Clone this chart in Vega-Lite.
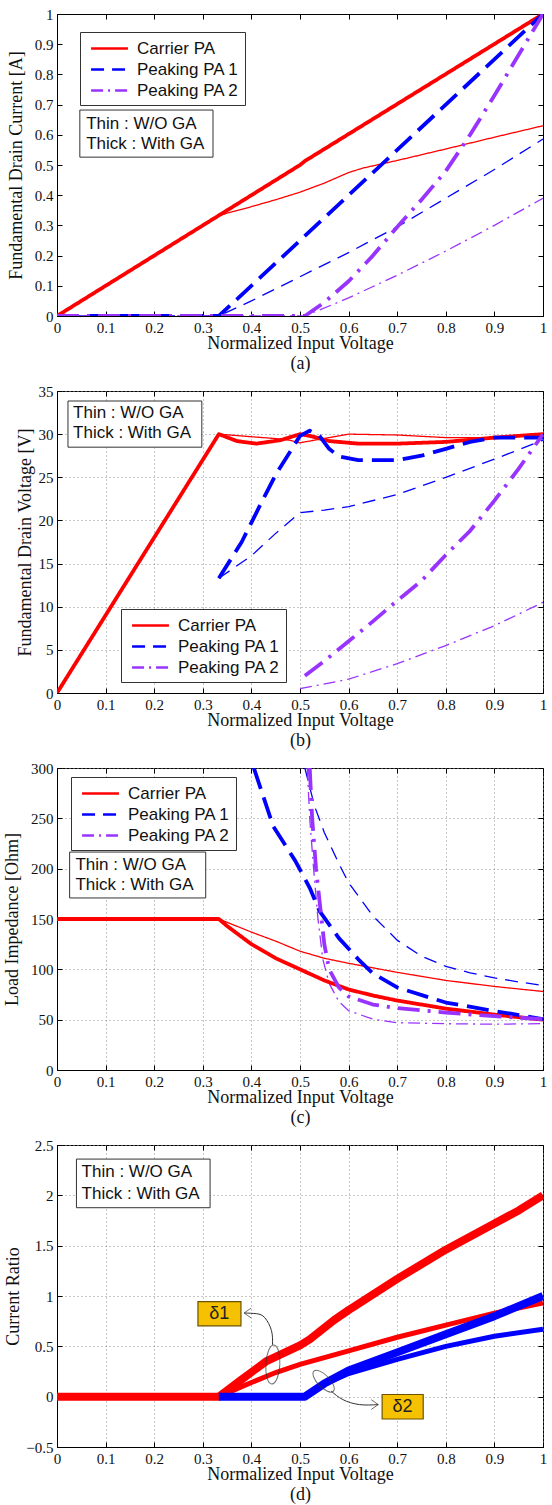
{
"$schema": "https://vega.github.io/schema/vega-lite/v6.json",
"padding": {"left": 3, "top": 6, "right": 5, "bottom": 0},
"spacing": 10,
"config": {
  "view": {"stroke": "#000", "strokeWidth": 1},
  "axis": {"labelFont": "Liberation Serif", "labelFontSize": 15, "labelColor": "#111", "titleFont": "Liberation Serif", "titleFontSize": 18, "titleFontWeight": "normal", "titleColor": "#111", "domainColor": "#000", "tickColor": "#000", "tickSize": -5, "labelPadding": 9, "gridColor": "#8c8c8c", "gridDash": [1, 3], "gridWidth": 1, "labelFlush": false, "labelOverlap": false, "titleLineHeight": 20, "labelExpr": "format(datum.value, '~g')"},
  "legend": {"labelFont": "Liberation Sans", "labelFontSize": 17, "labelColor": "#111", "symbolType": "M -2,0 L 2,0", "symbolSize": 340, "symbolOffset": 13, "labelOffset": 17, "padding": 6, "rowPadding": 2, "strokeColor": "#333", "fillColor": "#fff", "symbolStrokeWidth": 2.5, "orient": "none"},
  "text": {"font": "Liberation Sans", "fontSize": 17, "color": "#111", "align": "left", "baseline": "middle"}
},
"datasets": {
  "a": [
    {"pa":"Carrier PA","ga":"With GA","x":0,"y":0},{"pa":"Carrier PA","ga":"With GA","x":0.333,"y":0.333},{"pa":"Carrier PA","ga":"With GA","x":0.5,"y":0.5},{"pa":"Carrier PA","ga":"With GA","x":0.51,"y":0.513},{"pa":"Carrier PA","ga":"With GA","x":1,"y":1},
    {"pa":"Carrier PA","ga":"W/O GA","x":0,"y":0},{"pa":"Carrier PA","ga":"W/O GA","x":0.333,"y":0.333},{"pa":"Carrier PA","ga":"W/O GA","x":0.4,"y":0.362},{"pa":"Carrier PA","ga":"W/O GA","x":0.45,"y":0.385},{"pa":"Carrier PA","ga":"W/O GA","x":0.5,"y":0.41},{"pa":"Carrier PA","ga":"W/O GA","x":0.55,"y":0.44},{"pa":"Carrier PA","ga":"W/O GA","x":0.6,"y":0.475},{"pa":"Carrier PA","ga":"W/O GA","x":0.63,"y":0.49},{"pa":"Carrier PA","ga":"W/O GA","x":0.7,"y":0.515},{"pa":"Carrier PA","ga":"W/O GA","x":0.8,"y":0.553},{"pa":"Carrier PA","ga":"W/O GA","x":0.9,"y":0.592},{"pa":"Carrier PA","ga":"W/O GA","x":1,"y":0.63},
    {"pa":"Peaking PA 1","ga":"With GA","x":0,"y":0},{"pa":"Peaking PA 1","ga":"With GA","x":0.333,"y":0},{"pa":"Peaking PA 1","ga":"With GA","x":0.5,"y":0.25},{"pa":"Peaking PA 1","ga":"With GA","x":0.75,"y":0.625},{"pa":"Peaking PA 1","ga":"With GA","x":1,"y":1},
    {"pa":"Peaking PA 1","ga":"W/O GA","x":0,"y":0},{"pa":"Peaking PA 1","ga":"W/O GA","x":0.333,"y":0},{"pa":"Peaking PA 1","ga":"W/O GA","x":0.4,"y":0.05},{"pa":"Peaking PA 1","ga":"W/O GA","x":0.5,"y":0.13},{"pa":"Peaking PA 1","ga":"W/O GA","x":0.6,"y":0.21},{"pa":"Peaking PA 1","ga":"W/O GA","x":0.7,"y":0.295},{"pa":"Peaking PA 1","ga":"W/O GA","x":0.8,"y":0.39},{"pa":"Peaking PA 1","ga":"W/O GA","x":0.9,"y":0.485},{"pa":"Peaking PA 1","ga":"W/O GA","x":1,"y":0.586},
    {"pa":"Peaking PA 2","ga":"With GA","x":0,"y":0},{"pa":"Peaking PA 2","ga":"With GA","x":0.51,"y":0},{"pa":"Peaking PA 2","ga":"With GA","x":0.55,"y":0.045},{"pa":"Peaking PA 2","ga":"With GA","x":0.6,"y":0.115},{"pa":"Peaking PA 2","ga":"With GA","x":0.65,"y":0.2},{"pa":"Peaking PA 2","ga":"With GA","x":0.7,"y":0.295},{"pa":"Peaking PA 2","ga":"With GA","x":0.75,"y":0.385},{"pa":"Peaking PA 2","ga":"With GA","x":0.8,"y":0.48},{"pa":"Peaking PA 2","ga":"With GA","x":0.85,"y":0.6},{"pa":"Peaking PA 2","ga":"With GA","x":0.9,"y":0.73},{"pa":"Peaking PA 2","ga":"With GA","x":0.95,"y":0.865},{"pa":"Peaking PA 2","ga":"With GA","x":1,"y":1},
    {"pa":"Peaking PA 2","ga":"W/O GA","x":0,"y":0},{"pa":"Peaking PA 2","ga":"W/O GA","x":0.51,"y":0},{"pa":"Peaking PA 2","ga":"W/O GA","x":0.6,"y":0.06},{"pa":"Peaking PA 2","ga":"W/O GA","x":0.7,"y":0.135},{"pa":"Peaking PA 2","ga":"W/O GA","x":0.8,"y":0.215},{"pa":"Peaking PA 2","ga":"W/O GA","x":0.9,"y":0.3},{"pa":"Peaking PA 2","ga":"W/O GA","x":1,"y":0.39}
  ],
  "b": [
    {"pa":"Carrier PA","ga":"With GA","x":0,"y":0},{"pa":"Carrier PA","ga":"With GA","x":0.333,"y":30},{"pa":"Carrier PA","ga":"With GA","x":0.37,"y":29.2},{"pa":"Carrier PA","ga":"With GA","x":0.41,"y":28.9},{"pa":"Carrier PA","ga":"With GA","x":0.46,"y":29.3},{"pa":"Carrier PA","ga":"With GA","x":0.5,"y":30},{"pa":"Carrier PA","ga":"With GA","x":0.52,"y":29.8},{"pa":"Carrier PA","ga":"With GA","x":0.56,"y":29.2},{"pa":"Carrier PA","ga":"With GA","x":0.62,"y":28.9},{"pa":"Carrier PA","ga":"With GA","x":0.7,"y":28.9},{"pa":"Carrier PA","ga":"With GA","x":0.8,"y":29.1},{"pa":"Carrier PA","ga":"With GA","x":0.9,"y":29.6},{"pa":"Carrier PA","ga":"With GA","x":1,"y":30},
    {"pa":"Carrier PA","ga":"W/O GA","x":0,"y":0},{"pa":"Carrier PA","ga":"W/O GA","x":0.333,"y":30},{"pa":"Carrier PA","ga":"W/O GA","x":0.4,"y":29.7},{"pa":"Carrier PA","ga":"W/O GA","x":0.47,"y":29.4},{"pa":"Carrier PA","ga":"W/O GA","x":0.5,"y":29},{"pa":"Carrier PA","ga":"W/O GA","x":0.54,"y":29.4},{"pa":"Carrier PA","ga":"W/O GA","x":0.6,"y":30},{"pa":"Carrier PA","ga":"W/O GA","x":0.7,"y":29.9},{"pa":"Carrier PA","ga":"W/O GA","x":0.8,"y":29.6},{"pa":"Carrier PA","ga":"W/O GA","x":0.9,"y":29.6},{"pa":"Carrier PA","ga":"W/O GA","x":1,"y":30},
    {"pa":"Peaking PA 1","ga":"With GA","x":0.333,"y":13.3},{"pa":"Peaking PA 1","ga":"With GA","x":0.38,"y":17.5},{"pa":"Peaking PA 1","ga":"With GA","x":0.42,"y":22},{"pa":"Peaking PA 1","ga":"With GA","x":0.45,"y":25.3},{"pa":"Peaking PA 1","ga":"With GA","x":0.48,"y":28},{"pa":"Peaking PA 1","ga":"With GA","x":0.5,"y":29.8},{"pa":"Peaking PA 1","ga":"With GA","x":0.52,"y":30.4},{"pa":"Peaking PA 1","ga":"With GA","x":0.54,"y":29.8},{"pa":"Peaking PA 1","ga":"With GA","x":0.56,"y":28.3},{"pa":"Peaking PA 1","ga":"With GA","x":0.58,"y":27.4},{"pa":"Peaking PA 1","ga":"With GA","x":0.62,"y":27},{"pa":"Peaking PA 1","ga":"With GA","x":0.7,"y":27},{"pa":"Peaking PA 1","ga":"With GA","x":0.75,"y":27.5},{"pa":"Peaking PA 1","ga":"With GA","x":0.8,"y":28.3},{"pa":"Peaking PA 1","ga":"With GA","x":0.85,"y":29.1},{"pa":"Peaking PA 1","ga":"With GA","x":0.9,"y":29.6},{"pa":"Peaking PA 1","ga":"With GA","x":1,"y":29.6},
    {"pa":"Peaking PA 1","ga":"W/O GA","x":0.333,"y":13.3},{"pa":"Peaking PA 1","ga":"W/O GA","x":0.4,"y":15.9},{"pa":"Peaking PA 1","ga":"W/O GA","x":0.45,"y":18.5},{"pa":"Peaking PA 1","ga":"W/O GA","x":0.5,"y":20.9},{"pa":"Peaking PA 1","ga":"W/O GA","x":0.55,"y":21.2},{"pa":"Peaking PA 1","ga":"W/O GA","x":0.6,"y":21.6},{"pa":"Peaking PA 1","ga":"W/O GA","x":0.7,"y":23},{"pa":"Peaking PA 1","ga":"W/O GA","x":0.8,"y":25},{"pa":"Peaking PA 1","ga":"W/O GA","x":0.9,"y":27.1},{"pa":"Peaking PA 1","ga":"W/O GA","x":1,"y":29.3},
    {"pa":"Peaking PA 2","ga":"With GA","x":0.51,"y":2},{"pa":"Peaking PA 2","ga":"With GA","x":0.55,"y":3.7},{"pa":"Peaking PA 2","ga":"With GA","x":0.6,"y":6},{"pa":"Peaking PA 2","ga":"With GA","x":0.65,"y":8.3},{"pa":"Peaking PA 2","ga":"With GA","x":0.7,"y":10.7},{"pa":"Peaking PA 2","ga":"With GA","x":0.75,"y":13},{"pa":"Peaking PA 2","ga":"With GA","x":0.8,"y":16},{"pa":"Peaking PA 2","ga":"With GA","x":0.85,"y":18.8},{"pa":"Peaking PA 2","ga":"With GA","x":0.9,"y":22.3},{"pa":"Peaking PA 2","ga":"With GA","x":0.95,"y":26},{"pa":"Peaking PA 2","ga":"With GA","x":1,"y":30},
    {"pa":"Peaking PA 2","ga":"W/O GA","x":0.5,"y":0.5},{"pa":"Peaking PA 2","ga":"W/O GA","x":0.6,"y":1.6},{"pa":"Peaking PA 2","ga":"W/O GA","x":0.7,"y":3.4},{"pa":"Peaking PA 2","ga":"W/O GA","x":0.8,"y":5.5},{"pa":"Peaking PA 2","ga":"W/O GA","x":0.9,"y":7.8},{"pa":"Peaking PA 2","ga":"W/O GA","x":1,"y":10.5}
  ],
  "c": [
    {"pa":"Carrier PA","ga":"With GA","x":0,"y":150},{"pa":"Carrier PA","ga":"With GA","x":0.333,"y":150},{"pa":"Carrier PA","ga":"With GA","x":0.35,"y":143},{"pa":"Carrier PA","ga":"With GA","x":0.4,"y":125},{"pa":"Carrier PA","ga":"With GA","x":0.45,"y":111},{"pa":"Carrier PA","ga":"With GA","x":0.5,"y":100},{"pa":"Carrier PA","ga":"With GA","x":0.55,"y":89},{"pa":"Carrier PA","ga":"With GA","x":0.6,"y":80},{"pa":"Carrier PA","ga":"With GA","x":0.65,"y":74},{"pa":"Carrier PA","ga":"With GA","x":0.7,"y":69},{"pa":"Carrier PA","ga":"With GA","x":0.8,"y":61},{"pa":"Carrier PA","ga":"With GA","x":0.9,"y":55},{"pa":"Carrier PA","ga":"With GA","x":1,"y":50},
    {"pa":"Carrier PA","ga":"W/O GA","x":0,"y":150},{"pa":"Carrier PA","ga":"W/O GA","x":0.333,"y":150},{"pa":"Carrier PA","ga":"W/O GA","x":0.4,"y":137},{"pa":"Carrier PA","ga":"W/O GA","x":0.45,"y":128},{"pa":"Carrier PA","ga":"W/O GA","x":0.5,"y":118},{"pa":"Carrier PA","ga":"W/O GA","x":0.55,"y":111},{"pa":"Carrier PA","ga":"W/O GA","x":0.6,"y":106},{"pa":"Carrier PA","ga":"W/O GA","x":0.7,"y":97},{"pa":"Carrier PA","ga":"W/O GA","x":0.8,"y":89},{"pa":"Carrier PA","ga":"W/O GA","x":0.9,"y":83},{"pa":"Carrier PA","ga":"W/O GA","x":1,"y":78},
    {"pa":"Peaking PA 1","ga":"With GA","x":0.405,"y":300},{"pa":"Peaking PA 1","ga":"With GA","x":0.445,"y":242},{"pa":"Peaking PA 1","ga":"With GA","x":0.49,"y":208},{"pa":"Peaking PA 1","ga":"With GA","x":0.52,"y":181},{"pa":"Peaking PA 1","ga":"With GA","x":0.54,"y":158},{"pa":"Peaking PA 1","ga":"With GA","x":0.58,"y":131},{"pa":"Peaking PA 1","ga":"With GA","x":0.62,"y":110},{"pa":"Peaking PA 1","ga":"With GA","x":0.65,"y":96},{"pa":"Peaking PA 1","ga":"With GA","x":0.7,"y":82},{"pa":"Peaking PA 1","ga":"With GA","x":0.8,"y":67},{"pa":"Peaking PA 1","ga":"With GA","x":0.9,"y":58.6},{"pa":"Peaking PA 1","ga":"With GA","x":1,"y":50.5},
    {"pa":"Peaking PA 1","ga":"W/O GA","x":0.51,"y":300},{"pa":"Peaking PA 1","ga":"W/O GA","x":0.53,"y":262},{"pa":"Peaking PA 1","ga":"W/O GA","x":0.55,"y":236},{"pa":"Peaking PA 1","ga":"W/O GA","x":0.58,"y":205},{"pa":"Peaking PA 1","ga":"W/O GA","x":0.6,"y":186},{"pa":"Peaking PA 1","ga":"W/O GA","x":0.65,"y":153},{"pa":"Peaking PA 1","ga":"W/O GA","x":0.7,"y":129},{"pa":"Peaking PA 1","ga":"W/O GA","x":0.75,"y":113},{"pa":"Peaking PA 1","ga":"W/O GA","x":0.8,"y":103},{"pa":"Peaking PA 1","ga":"W/O GA","x":0.85,"y":96.5},{"pa":"Peaking PA 1","ga":"W/O GA","x":0.9,"y":91.5},{"pa":"Peaking PA 1","ga":"W/O GA","x":0.95,"y":87.5},{"pa":"Peaking PA 1","ga":"W/O GA","x":1,"y":84},
    {"pa":"Peaking PA 2","ga":"With GA","x":0.52,"y":300},{"pa":"Peaking PA 2","ga":"With GA","x":0.525,"y":250},{"pa":"Peaking PA 2","ga":"With GA","x":0.533,"y":200},{"pa":"Peaking PA 2","ga":"With GA","x":0.542,"y":160},{"pa":"Peaking PA 2","ga":"With GA","x":0.55,"y":125},{"pa":"Peaking PA 2","ga":"With GA","x":0.56,"y":100},{"pa":"Peaking PA 2","ga":"With GA","x":0.58,"y":82},{"pa":"Peaking PA 2","ga":"With GA","x":0.6,"y":73},{"pa":"Peaking PA 2","ga":"With GA","x":0.65,"y":65},{"pa":"Peaking PA 2","ga":"With GA","x":0.7,"y":61.5},{"pa":"Peaking PA 2","ga":"With GA","x":0.8,"y":57},{"pa":"Peaking PA 2","ga":"With GA","x":0.9,"y":53.5},{"pa":"Peaking PA 2","ga":"With GA","x":1,"y":50.5},
    {"pa":"Peaking PA 2","ga":"W/O GA","x":0.515,"y":300},{"pa":"Peaking PA 2","ga":"W/O GA","x":0.52,"y":250},{"pa":"Peaking PA 2","ga":"W/O GA","x":0.528,"y":200},{"pa":"Peaking PA 2","ga":"W/O GA","x":0.537,"y":150},{"pa":"Peaking PA 2","ga":"W/O GA","x":0.547,"y":110},{"pa":"Peaking PA 2","ga":"W/O GA","x":0.56,"y":86},{"pa":"Peaking PA 2","ga":"W/O GA","x":0.58,"y":68},{"pa":"Peaking PA 2","ga":"W/O GA","x":0.6,"y":59},{"pa":"Peaking PA 2","ga":"W/O GA","x":0.65,"y":50.5},{"pa":"Peaking PA 2","ga":"W/O GA","x":0.7,"y":47},{"pa":"Peaking PA 2","ga":"W/O GA","x":0.8,"y":46},{"pa":"Peaking PA 2","ga":"W/O GA","x":0.9,"y":45.5},{"pa":"Peaking PA 2","ga":"W/O GA","x":1,"y":46}
  ],
  "d": [
    {"pa":"Carrier PA","ga":"With GA","x":0,"y":0},{"pa":"Carrier PA","ga":"With GA","x":0.333,"y":0},{"pa":"Carrier PA","ga":"With GA","x":0.38,"y":0.17},{"pa":"Carrier PA","ga":"With GA","x":0.43,"y":0.35},{"pa":"Carrier PA","ga":"With GA","x":0.5,"y":0.51},{"pa":"Carrier PA","ga":"With GA","x":0.52,"y":0.57},{"pa":"Carrier PA","ga":"With GA","x":0.57,"y":0.76},{"pa":"Carrier PA","ga":"With GA","x":0.6,"y":0.86},{"pa":"Carrier PA","ga":"With GA","x":0.7,"y":1.17},{"pa":"Carrier PA","ga":"With GA","x":0.8,"y":1.46},{"pa":"Carrier PA","ga":"With GA","x":0.9,"y":1.72},{"pa":"Carrier PA","ga":"With GA","x":0.95,"y":1.85},{"pa":"Carrier PA","ga":"With GA","x":1,"y":2},
    {"pa":"Carrier PA","ga":"W/O GA","x":0,"y":0},{"pa":"Carrier PA","ga":"W/O GA","x":0.333,"y":0},{"pa":"Carrier PA","ga":"W/O GA","x":0.38,"y":0.1},{"pa":"Carrier PA","ga":"W/O GA","x":0.45,"y":0.24},{"pa":"Carrier PA","ga":"W/O GA","x":0.5,"y":0.32},{"pa":"Carrier PA","ga":"W/O GA","x":0.6,"y":0.455},{"pa":"Carrier PA","ga":"W/O GA","x":0.7,"y":0.59},{"pa":"Carrier PA","ga":"W/O GA","x":0.8,"y":0.71},{"pa":"Carrier PA","ga":"W/O GA","x":0.9,"y":0.83},{"pa":"Carrier PA","ga":"W/O GA","x":1,"y":0.93},
    {"pa":"Peaking PA","ga":"With GA","x":0.333,"y":0},{"pa":"Peaking PA","ga":"With GA","x":0.51,"y":0},{"pa":"Peaking PA","ga":"With GA","x":0.55,"y":0.13},{"pa":"Peaking PA","ga":"With GA","x":0.6,"y":0.26},{"pa":"Peaking PA","ga":"With GA","x":0.7,"y":0.44},{"pa":"Peaking PA","ga":"With GA","x":0.8,"y":0.62},{"pa":"Peaking PA","ga":"With GA","x":0.9,"y":0.8},{"pa":"Peaking PA","ga":"With GA","x":1,"y":1},
    {"pa":"Peaking PA","ga":"W/O GA","x":0.333,"y":0},{"pa":"Peaking PA","ga":"W/O GA","x":0.51,"y":0},{"pa":"Peaking PA","ga":"W/O GA","x":0.55,"y":0.12},{"pa":"Peaking PA","ga":"W/O GA","x":0.6,"y":0.23},{"pa":"Peaking PA","ga":"W/O GA","x":0.7,"y":0.37},{"pa":"Peaking PA","ga":"W/O GA","x":0.8,"y":0.5},{"pa":"Peaking PA","ga":"W/O GA","x":0.9,"y":0.6},{"pa":"Peaking PA","ga":"W/O GA","x":1,"y":0.67}
  ],
  "arrows": [
    {"id":"d1","i":0,"x":0.4434,"y":0.516},{"id":"d1","i":1,"x":0.4413,"y":0.656},{"id":"d1","i":2,"x":0.4277,"y":0.784},{"id":"d1","i":3,"x":0.4106,"y":0.824},{"id":"d1","i":4,"x":0.385,"y":0.831},
    {"id":"d2","i":0,"x":0.5643,"y":0.0547},{"id":"d2","i":1,"x":0.588,"y":-0.0286},{"id":"d2","i":2,"x":0.6223,"y":-0.0787},{"id":"d2","i":3,"x":0.661,"y":-0.0787}
  ]
},
"vconcat": [
  {
    "width": 486, "height": 302,
    "resolve": {"scale": {"color": "independent", "strokeDash": "independent"}},
    "layer": [
      {
        "data": {"name": "a"},
        "transform": [{"filter": "datum.ga == 'W/O GA'"}],
        "mark": {"type": "line", "strokeWidth": 1.3, "clip": true},
        "encoding": {
          "x": {"field": "x", "type": "quantitative", "scale": {"domain": [0, 1], "nice": false, "zero": false}, "axis": {"orient": "bottom", "values": [0,0.1,0.2,0.3,0.4,0.5,0.6,0.7,0.8,0.9,1], "title": ["Normalized Input Voltage", "(a)"], "titlePadding": -1, "grid": false}},
          "y": {"field": "y", "type": "quantitative", "scale": {"domain": [0, 1], "nice": false}, "axis": {"orient": "left", "values": [0,0.1,0.2,0.3,0.4,0.5,0.6,0.7,0.8,0.9,1], "title": "Fundamental Drain Current [A]", "titlePadding": 9, "grid": false}},
          "color": {"field": "pa", "type": "nominal", "scale": {"domain": ["Carrier PA", "Peaking PA 1", "Peaking PA 2"], "range": ["#ff0000", "#0000ff", "#9933ff"]}, "legend": {"title": null, "legendX": 23, "legendY": 18, "encode": {"symbols": {"update": {"strokeWidth": {"value": 2.5}}}}}},
          "strokeDash": {"field": "pa", "type": "nominal", "scale": {"domain": ["Carrier PA", "Peaking PA 1", "Peaking PA 2"], "range": [[1, 0], [13, 8], [12, 5, 2, 5]]}, "legend": {"title": null, "legendX": 23, "legendY": 18, "encode": {"symbols": {"update": {"strokeWidth": {"value": 2.5}}}}}}
        }
      },
      {
        "data": {"name": "a"},
        "transform": [{"filter": "datum.ga == 'With GA'"}],
        "mark": {"type": "line", "strokeWidth": 3.8, "clip": true, "strokeJoin": "round"},
        "encoding": {
          "x": {"field": "x", "type": "quantitative", "scale": {"domain": [0, 1], "nice": false, "zero": false}, "axis": {"orient": "top", "values": [0,0.1,0.2,0.3,0.4,0.5,0.6,0.7,0.8,0.9,1], "labels": false, "title": null, "domain": false, "grid": false}},
          "y": {"field": "y", "type": "quantitative", "scale": {"domain": [0, 1], "nice": false}, "axis": {"orient": "right", "values": [0,0.1,0.2,0.3,0.4,0.5,0.6,0.7,0.8,0.9,1], "labels": false, "title": null, "domain": false, "grid": false}},
          "color": {"field": "pa", "type": "nominal", "scale": {"domain": ["Carrier PA", "Peaking PA 1", "Peaking PA 2"], "range": ["#ff0000", "#0000ff", "#9933ff"]}, "legend": null},
          "strokeDash": {"field": "pa", "type": "nominal", "scale": {"domain": ["Carrier PA", "Peaking PA 1", "Peaking PA 2"], "range": [[1, 0], [22, 9], [22, 8, 3, 8]]}, "legend": null}
        }
      },
      {
        "data": {"values": [{}]},
        "mark": {"type": "rect", "fill": "#fff", "stroke": "#333", "strokeWidth": 1},
        "encoding": {
          "x": {"datum": 0.047, "type": "quantitative", "axis": null}, "x2": {"datum": 0.321},
          "y": {"datum": 0.682, "type": "quantitative", "axis": null}, "y2": {"datum": 0.526}
        }
      },
      {
        "data": {"values": [{}]},
        "mark": {"type": "text", "text": "Thin : W/O GA"},
        "encoding": {"x": {"datum": 0.06, "type": "quantitative", "axis": null}, "y": {"datum": 0.636, "type": "quantitative", "axis": null}}
      },
      {
        "data": {"values": [{}]},
        "mark": {"type": "text", "text": "Thick : With GA"},
        "encoding": {"x": {"datum": 0.06, "type": "quantitative", "axis": null}, "y": {"datum": 0.57, "type": "quantitative", "axis": null}}
      }
    ]
  },
  {
    "width": 486, "height": 302,
    "resolve": {"scale": {"color": "independent", "strokeDash": "independent"}},
    "layer": [
      {
        "data": {"name": "b"},
        "transform": [{"filter": "datum.ga == 'W/O GA'"}],
        "mark": {"type": "line", "strokeWidth": 1.3, "clip": true},
        "encoding": {
          "x": {"field": "x", "type": "quantitative", "scale": {"domain": [0, 1], "nice": false, "zero": false}, "axis": {"orient": "bottom", "values": [0,0.1,0.2,0.3,0.4,0.5,0.6,0.7,0.8,0.9,1], "title": ["Normalized Input Voltage", "(b)"], "titlePadding": -1, "grid": true}},
          "y": {"field": "y", "type": "quantitative", "scale": {"domain": [0, 35], "nice": false}, "axis": {"orient": "left", "values": [0,5,10,15,20,25,30,35], "title": "Fundamental Drain Voltage [V]", "titlePadding": 4, "grid": true}},
          "color": {"field": "pa", "type": "nominal", "scale": {"domain": ["Carrier PA", "Peaking PA 1", "Peaking PA 2"], "range": ["#ff0000", "#0000ff", "#9933ff"]}, "legend": {"title": null, "legendX": 64, "legendY": 218, "encode": {"symbols": {"update": {"strokeWidth": {"value": 2.5}}}}}},
          "strokeDash": {"field": "pa", "type": "nominal", "scale": {"domain": ["Carrier PA", "Peaking PA 1", "Peaking PA 2"], "range": [[1, 0], [13, 8], [12, 5, 2, 5]]}, "legend": {"title": null, "legendX": 64, "legendY": 218, "encode": {"symbols": {"update": {"strokeWidth": {"value": 2.5}}}}}}
        }
      },
      {
        "data": {"name": "b"},
        "transform": [{"filter": "datum.ga == 'With GA'"}],
        "mark": {"type": "line", "strokeWidth": 3.8, "clip": true, "strokeJoin": "round"},
        "encoding": {
          "x": {"field": "x", "type": "quantitative", "scale": {"domain": [0, 1], "nice": false, "zero": false}, "axis": {"orient": "top", "values": [0,0.1,0.2,0.3,0.4,0.5,0.6,0.7,0.8,0.9,1], "labels": false, "title": null, "domain": false, "grid": false}},
          "y": {"field": "y", "type": "quantitative", "scale": {"domain": [0, 35], "nice": false}, "axis": {"orient": "right", "values": [0,5,10,15,20,25,30,35], "labels": false, "title": null, "domain": false, "grid": false}},
          "color": {"field": "pa", "type": "nominal", "scale": {"domain": ["Carrier PA", "Peaking PA 1", "Peaking PA 2"], "range": ["#ff0000", "#0000ff", "#9933ff"]}, "legend": null},
          "strokeDash": {"field": "pa", "type": "nominal", "scale": {"domain": ["Carrier PA", "Peaking PA 1", "Peaking PA 2"], "range": [[1, 0], [22, 9], [22, 8, 3, 8]]}, "legend": null}
        }
      },
      {
        "data": {"values": [{}]},
        "mark": {"type": "rect", "fill": "#fff", "stroke": "#333", "strokeWidth": 1},
        "encoding": {
          "x": {"datum": 0.0226, "type": "quantitative", "axis": null}, "x2": {"datum": 0.298},
          "y": {"datum": 33.84, "type": "quantitative", "axis": null}, "y2": {"datum": 28.49}
        }
      },
      {
        "data": {"values": [{}]},
        "mark": {"type": "text", "text": "Thin : W/O GA"},
        "encoding": {"x": {"datum": 0.033, "type": "quantitative", "axis": null}, "y": {"datum": 32.44, "type": "quantitative", "axis": null}}
      },
      {
        "data": {"values": [{}]},
        "mark": {"type": "text", "text": "Thick : With GA"},
        "encoding": {"x": {"datum": 0.033, "type": "quantitative", "axis": null}, "y": {"datum": 30.12, "type": "quantitative", "axis": null}}
      }
    ]
  },
  {
    "width": 486, "height": 302,
    "resolve": {"scale": {"color": "independent", "strokeDash": "independent"}},
    "layer": [
      {
        "data": {"name": "c"},
        "transform": [{"filter": "datum.ga == 'W/O GA'"}],
        "mark": {"type": "line", "strokeWidth": 1.3, "clip": true},
        "encoding": {
          "x": {"field": "x", "type": "quantitative", "scale": {"domain": [0, 1], "nice": false, "zero": false}, "axis": {"orient": "bottom", "values": [0,0.1,0.2,0.3,0.4,0.5,0.6,0.7,0.8,0.9,1], "title": ["Normalized Input Voltage", "(c)"], "titlePadding": -1, "grid": true}},
          "y": {"field": "y", "type": "quantitative", "scale": {"domain": [0, 300], "nice": false}, "axis": {"orient": "left", "values": [0,50,100,150,200,250,300], "title": "Load Impedance [Ohm]", "titlePadding": 9, "grid": true}},
          "color": {"field": "pa", "type": "nominal", "scale": {"domain": ["Carrier PA", "Peaking PA 1", "Peaking PA 2"], "range": ["#ff0000", "#0000ff", "#9933ff"]}, "legend": {"title": null, "legendX": 14, "legendY": 9, "encode": {"symbols": {"update": {"strokeWidth": {"value": 2.5}}}}}},
          "strokeDash": {"field": "pa", "type": "nominal", "scale": {"domain": ["Carrier PA", "Peaking PA 1", "Peaking PA 2"], "range": [[1, 0], [13, 8], [12, 5, 2, 5]]}, "legend": {"title": null, "legendX": 14, "legendY": 9, "encode": {"symbols": {"update": {"strokeWidth": {"value": 2.5}}}}}}
        }
      },
      {
        "data": {"name": "c"},
        "transform": [{"filter": "datum.ga == 'With GA'"}],
        "mark": {"type": "line", "strokeWidth": 3.8, "clip": true, "strokeJoin": "round"},
        "encoding": {
          "x": {"field": "x", "type": "quantitative", "scale": {"domain": [0, 1], "nice": false, "zero": false}, "axis": {"orient": "top", "values": [0,0.1,0.2,0.3,0.4,0.5,0.6,0.7,0.8,0.9,1], "labels": false, "title": null, "domain": false, "grid": false}},
          "y": {"field": "y", "type": "quantitative", "scale": {"domain": [0, 300], "nice": false}, "axis": {"orient": "right", "values": [0,50,100,150,200,250,300], "labels": false, "title": null, "domain": false, "grid": false}},
          "color": {"field": "pa", "type": "nominal", "scale": {"domain": ["Carrier PA", "Peaking PA 1", "Peaking PA 2"], "range": ["#ff0000", "#0000ff", "#9933ff"]}, "legend": null},
          "strokeDash": {"field": "pa", "type": "nominal", "scale": {"domain": ["Carrier PA", "Peaking PA 1", "Peaking PA 2"], "range": [[1, 0], [22, 9], [22, 8, 3, 8]]}, "legend": null}
        }
      },
      {
        "data": {"values": [{}]},
        "mark": {"type": "rect", "fill": "#fff", "stroke": "#333", "strokeWidth": 1},
        "encoding": {
          "x": {"datum": 0.026, "type": "quantitative", "axis": null}, "x2": {"datum": 0.306},
          "y": {"datum": 216.5, "type": "quantitative", "axis": null}, "y2": {"datum": 170.9}
        }
      },
      {
        "data": {"values": [{}]},
        "mark": {"type": "text", "text": "Thin : W/O GA"},
        "encoding": {"x": {"datum": 0.038, "type": "quantitative", "axis": null}, "y": {"datum": 203.6, "type": "quantitative", "axis": null}}
      },
      {
        "data": {"values": [{}]},
        "mark": {"type": "text", "text": "Thick : With GA"},
        "encoding": {"x": {"datum": 0.038, "type": "quantitative", "axis": null}, "y": {"datum": 183.8, "type": "quantitative", "axis": null}}
      }
    ]
  },
  {
    "width": 486, "height": 302,
    "layer": [
      {
        "data": {"name": "d"},
        "transform": [{"filter": "datum.ga == 'W/O GA'"}],
        "mark": {"type": "line", "strokeWidth": 5, "clip": true},
        "encoding": {
          "x": {"field": "x", "type": "quantitative", "scale": {"domain": [0, 1], "nice": false, "zero": false}, "axis": {"orient": "bottom", "values": [0,0.1,0.2,0.3,0.4,0.5,0.6,0.7,0.8,0.9,1], "title": ["Normalized Input Voltage", "(d)"], "titlePadding": -1, "grid": true}},
          "y": {"field": "y", "type": "quantitative", "scale": {"domain": [-0.5, 2.5], "nice": false, "zero": false}, "axis": {"orient": "left", "values": [-0.5,0,0.5,1,1.5,2,2.5], "title": "Current Ratio", "titlePadding": 3, "grid": true}},
          "color": {"field": "pa", "type": "nominal", "scale": {"domain": ["Carrier PA", "Peaking PA"], "range": ["#ff0000", "#0000ff"]}, "legend": null}
        }
      },
      {
        "data": {"name": "d"},
        "transform": [{"filter": "datum.ga == 'With GA'"}],
        "mark": {"type": "line", "strokeWidth": 8, "clip": true, "strokeJoin": "round"},
        "encoding": {
          "x": {"field": "x", "type": "quantitative", "scale": {"domain": [0, 1], "nice": false, "zero": false}, "axis": {"orient": "top", "values": [0,0.1,0.2,0.3,0.4,0.5,0.6,0.7,0.8,0.9,1], "labels": false, "title": null, "domain": false, "grid": false}},
          "y": {"field": "y", "type": "quantitative", "scale": {"domain": [-0.5, 2.5], "nice": false, "zero": false}, "axis": {"orient": "right", "values": [-0.5,0,0.5,1,1.5,2,2.5], "labels": false, "title": null, "domain": false, "grid": false}},
          "color": {"field": "pa", "type": "nominal", "scale": {"domain": ["Carrier PA", "Peaking PA"], "range": ["#ff0000", "#0000ff"]}, "legend": null}
        }
      },
      {
        "data": {"values": [{}]},
        "mark": {"type": "rect", "fill": "#fff", "stroke": "#333", "strokeWidth": 1},
        "encoding": {
          "x": {"datum": 0.04, "type": "quantitative", "axis": null}, "x2": {"datum": 0.315},
          "y": {"datum": 2.36, "type": "quantitative", "axis": null}, "y2": {"datum": 1.877}
        }
      },
      {
        "data": {"values": [{}]},
        "mark": {"type": "text", "text": "Thin : W/O GA"},
        "encoding": {"x": {"datum": 0.0506, "type": "quantitative", "axis": null}, "y": {"datum": 2.228, "type": "quantitative", "axis": null}}
      },
      {
        "data": {"values": [{}]},
        "mark": {"type": "text", "text": "Thick : With GA"},
        "encoding": {"x": {"datum": 0.0506, "type": "quantitative", "axis": null}, "y": {"datum": 2.0175, "type": "quantitative", "axis": null}}
      },
      {
        "data": {"name": "arrows"},
        "mark": {"type": "line", "stroke": "#333", "strokeWidth": 1, "interpolate": "natural"},
        "encoding": {
          "x": {"field": "x", "type": "quantitative", "axis": null},
          "y": {"field": "y", "type": "quantitative", "axis": null},
          "detail": {"field": "id"},
          "order": {"field": "i", "type": "quantitative"}
        }
      },
      {
        "data": {"values": [{}]},
        "mark": {"type": "point", "shape": "M -1,-0.7 L 0,0 L -1,0.7", "size": 196, "angle": 180, "filled": false, "stroke": "#333", "strokeWidth": 1},
        "encoding": {"x": {"datum": 0.385, "type": "quantitative", "axis": null}, "y": {"datum": 0.831, "type": "quantitative", "axis": null}}
      },
      {
        "data": {"values": [{}]},
        "mark": {"type": "point", "shape": "M -1,-0.7 L 0,0 L -1,0.7", "size": 196, "angle": 0, "filled": false, "stroke": "#333", "strokeWidth": 1},
        "encoding": {"x": {"datum": 0.661, "type": "quantitative", "axis": null}, "y": {"datum": -0.0787, "type": "quantitative", "axis": null}}
      },
      {
        "data": {"values": [{}]},
        "mark": {"type": "point", "shape": "M 0,-1 A 0.36,1 0 1,1 0,1 A 0.36,1 0 1,1 0,-1 Z", "size": 1521, "angle": 3, "filled": false, "stroke": "#333", "strokeWidth": 1},
        "encoding": {"x": {"datum": 0.4441, "type": "quantitative", "axis": null}, "y": {"datum": 0.3194, "type": "quantitative", "axis": null}}
      },
      {
        "data": {"values": [{}]},
        "mark": {"type": "point", "shape": "M -1,0 A 1,0.43 0 1,1 1,0 A 1,0.43 0 1,1 -1,0 Z", "size": 784, "angle": 46, "filled": false, "stroke": "#333", "strokeWidth": 1},
        "encoding": {"x": {"datum": 0.5486, "type": "quantitative", "axis": null}, "y": {"datum": 0.1536, "type": "quantitative", "axis": null}}
      },
      {
        "data": {"values": [{}]},
        "mark": {"type": "rect", "fill": "#f6c100", "stroke": "#6b5200", "strokeWidth": 1.2},
        "encoding": {
          "x": {"datum": 0.29, "type": "quantitative", "axis": null}, "x2": {"datum": 0.3785},
          "y": {"datum": 0.944, "type": "quantitative", "axis": null}, "y2": {"datum": 0.7036}
        }
      },
      {
        "data": {"values": [{}]},
        "mark": {"type": "text", "text": "δ1", "align": "center", "fontSize": 18, "color": "#222"},
        "encoding": {"x": {"datum": 0.334, "type": "quantitative", "axis": null}, "y": {"datum": 0.824, "type": "quantitative", "axis": null}}
      },
      {
        "data": {"values": [{}]},
        "mark": {"type": "rect", "fill": "#f6c100", "stroke": "#6b5200", "strokeWidth": 1.2},
        "encoding": {
          "x": {"datum": 0.669, "type": "quantitative", "axis": null}, "x2": {"datum": 0.7535},
          "y": {"datum": 0.0216, "type": "quantitative", "axis": null}, "y2": {"datum": -0.222}
        }
      },
      {
        "data": {"values": [{}]},
        "mark": {"type": "text", "text": "δ2", "align": "center", "fontSize": 18, "color": "#222"},
        "encoding": {"x": {"datum": 0.711, "type": "quantitative", "axis": null}, "y": {"datum": -0.1, "type": "quantitative", "axis": null}}
      }
    ]
  }
]
}
